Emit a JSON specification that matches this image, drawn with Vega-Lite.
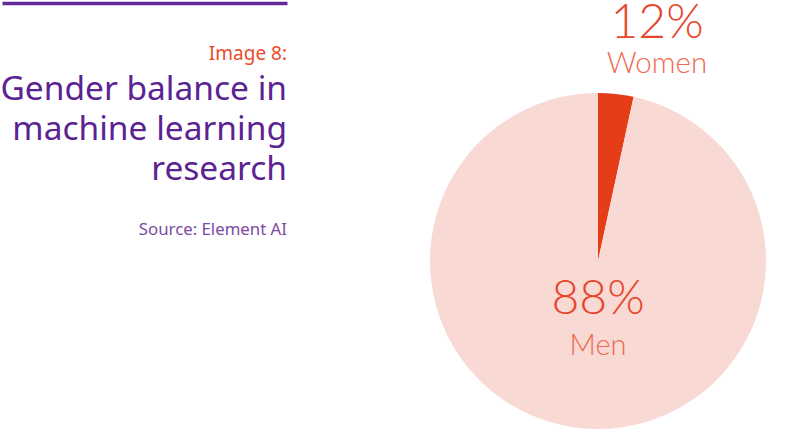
{
  "$schema": "https://vega.github.io/schema/vega-lite/v6.json",
  "description": "Gender balance in machine learning research, pie with a title block on the left.",
  "padding": {"left": 0, "top": 0, "right": 0, "bottom": 0},
  "spacing": 143,
  "config": {"view": {"stroke": null}},
  "datasets": {
    "lines": [
      {"order": 1, "text": "Image 8:", "role": "kicker"},
      {"order": 2, "text": "Gender balance in", "role": "title"},
      {"order": 3, "text": "machine learning", "role": "title"},
      {"order": 4, "text": "research", "role": "title"},
      {"order": 5, "text": "Source: Element AI", "role": "source"}
    ],
    "shares": [
      {"gender": "Women", "label": "12%", "drawn_share": 3.4},
      {"gender": "Men", "label": "88%", "drawn_share": 96.6}
    ]
  },
  "hconcat": [
    {
      "width": 285,
      "height": 274,
      "data": {"name": "lines"},
      "encoding": {
        "y": {
          "field": "order",
          "type": "quantitative",
          "scale": {"domain": [-0.425, 6.425], "reverse": true, "nice": false, "zero": false},
          "axis": null
        },
        "x": {
          "datum": 1,
          "type": "quantitative",
          "scale": {"domain": [0, 1]},
          "axis": {"orient": "top", "domainColor": "#642a9c", "domainWidth": 3.5, "ticks": false, "labels": false, "grid": false, "title": null}
        },
        "text": {"field": "text"}
      },
      "layer": [
        {
          "transform": [{"filter": "datum.role === 'kicker'"}],
          "mark": {"type": "text", "align": "right", "baseline": "alphabetic", "font": "Noto Sans", "fontSize": 19, "color": "#ec4a2b"}
        },
        {
          "transform": [{"filter": "datum.role === 'title'"}],
          "mark": {"type": "text", "align": "right", "baseline": "alphabetic", "font": "Noto Sans", "fontSize": 33.5, "color": "#5b2391"}
        },
        {
          "transform": [{"filter": "datum.role === 'source'"}],
          "mark": {"type": "text", "align": "right", "baseline": "alphabetic", "dy": 15, "font": "Noto Sans", "fontSize": 16.8, "color": "#7b4ba5"}
        }
      ]
    },
    {
      "spacing": 8,
      "vconcat": [
        {
          "width": 336,
          "height": 82,
          "data": {"name": "shares"},
          "transform": [{"filter": "datum.gender === 'Women'"}],
          "layer": [
            {
              "mark": {"type": "text", "baseline": "alphabetic", "dx": 59, "dy": -6, "font": "Lato", "fontWeight": 300, "fontSize": 48, "color": "#e8462c"},
              "encoding": {"text": {"field": "label"}}
            },
            {
              "mark": {"type": "text", "baseline": "alphabetic", "dx": 59, "dy": 29, "font": "Lato", "fontWeight": 300, "fontSize": 29.5, "color": "#ee6a51"},
              "encoding": {"text": {"field": "gender"}}
            }
          ]
        },
        {
          "width": 336,
          "height": 336,
          "data": {"name": "shares"},
          "layer": [
            {
              "mark": {"type": "arc", "radius": 168},
              "encoding": {
                "theta": {"field": "drawn_share", "type": "quantitative", "stack": true},
                "order": {"field": "gender", "sort": "descending"},
                "color": {
                  "field": "gender",
                  "type": "nominal",
                  "scale": {"domain": ["Women", "Men"], "range": ["#e53d18", "#f9d9d3"]},
                  "legend": null
                }
              }
            },
            {
              "transform": [{"filter": "datum.gender === 'Men'"}],
              "mark": {"type": "text", "baseline": "alphabetic", "dy": 53, "font": "Lato", "fontWeight": 300, "fontSize": 48, "color": "#e8462c"},
              "encoding": {"text": {"field": "label"}}
            },
            {
              "transform": [{"filter": "datum.gender === 'Men'"}],
              "mark": {"type": "text", "baseline": "alphabetic", "dy": 94, "font": "Lato", "fontWeight": 300, "fontSize": 29, "color": "#ee6a51"},
              "encoding": {"text": {"field": "gender"}}
            }
          ]
        }
      ]
    }
  ]
}
